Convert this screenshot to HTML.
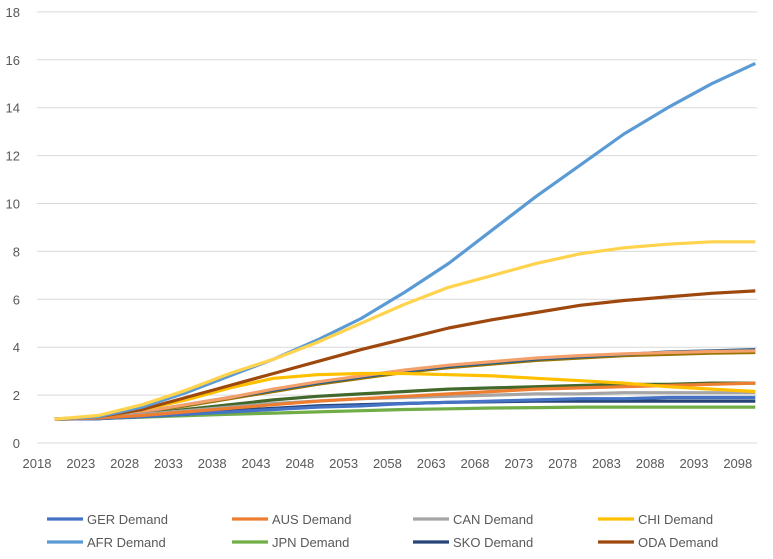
<!DOCTYPE html>
<html><head><meta charset="utf-8"><style>
body{margin:0;background:#fff;font-family:"Liberation Sans",sans-serif;}
svg text{font-family:"Liberation Sans",sans-serif;fill:#595959;font-size:13px;}
</style></head><body>
<svg id="c" width="773" height="554"></svg>
<script>
const years=[2020,2025,2030,2035,2040,2045,2050,2055,2060,2065,2070,2075,2080,2085,2090,2095,2100];
const yTicks=[0,2,4,6,8,10,12,14,16,18];
const xTicks=[2018,2023,2028,2033,2038,2043,2048,2053,2058,2063,2068,2073,2078,2083,2088,2093,2098];
const gerVals=[1,1.02,1.1,1.2,1.3,1.4,1.5,1.55,1.65,1.7,1.75,1.8,1.85,1.85,1.9,1.9,1.9];
const ausVals=[1,1.05,1.15,1.3,1.45,1.6,1.75,1.85,1.95,2.05,2.15,2.25,2.3,2.35,2.4,2.45,2.5];
const canVals=[1,1.05,1.2,1.35,1.5,1.65,1.75,1.85,1.9,1.95,2.0,2.05,2.05,2.1,2.1,2.1,2.1];
const chiVals=[1,1.1,1.4,1.8,2.3,2.7,2.85,2.9,2.9,2.85,2.8,2.7,2.6,2.5,2.35,2.25,2.15];
const afrVals=[1,1.1,1.5,2.1,2.8,3.5,4.3,5.2,6.3,7.5,8.9,10.3,11.6,12.9,14.0,15.0,15.85];
const jpnVals=[1,1.02,1.08,1.14,1.2,1.25,1.3,1.35,1.4,1.43,1.46,1.48,1.5,1.5,1.5,1.5,1.5];
const skoVals=[1,1.02,1.1,1.2,1.35,1.45,1.55,1.6,1.65,1.7,1.72,1.75,1.75,1.75,1.75,1.75,1.75];
const odaVals=[1,1.1,1.4,1.9,2.4,2.9,3.4,3.9,4.35,4.8,5.15,5.45,5.75,5.95,6.1,6.25,6.35];
const extraYellowVals=[1,1.15,1.6,2.2,2.9,3.5,4.2,5.0,5.8,6.5,7.0,7.5,7.9,8.15,8.3,8.4,8.4];
const extraBlueVals=[1,1.1,1.3,1.6,1.9,2.2,2.5,2.75,3.0,3.2,3.35,3.5,3.6,3.7,3.8,3.85,3.9];
const extraOliveVals=[1,1.1,1.3,1.55,1.85,2.15,2.45,2.7,2.95,3.15,3.3,3.45,3.55,3.65,3.7,3.75,3.78];
const extraPeachVals=[1,1.1,1.3,1.6,1.9,2.25,2.55,2.8,3.05,3.25,3.4,3.55,3.65,3.72,3.78,3.82,3.85];
const extraGreenVals=[1,1.05,1.2,1.4,1.6,1.8,1.95,2.05,2.15,2.25,2.3,2.35,2.4,2.45,2.45,2.5,2.5];
const series=[
 ["extra-olive",extraOliveVals,"#997300",null],
 ["extra-blue",extraBlueVals,"#255E91",null],
 ["extra-peach",extraPeachVals,"#F4A06A",null],
 ["extra-green",extraGreenVals,"#43682B",null],
 ["jpn",jpnVals,"#70AD47","JPN Demand"],
 ["sko",skoVals,"#264478","SKO Demand"],
 ["ger",gerVals,"#4472C4","GER Demand"],
 ["can",canVals,"#A5A5A5","CAN Demand"],
 ["aus",ausVals,"#ED7D31","AUS Demand"],
 ["chi",chiVals,"#FFC000","CHI Demand"],
 ["oda",odaVals,"#9E480E","ODA Demand"],
 ["afr",afrVals,"#5B9BD5","AFR Demand"],
 ["extra-yellow",extraYellowVals,"#FFD34D",null]
];
const NS="http://www.w3.org/2000/svg",svg=document.getElementById("c");
const X=y=>37+(y-2018)*8.76, Y=v=>443-v*23.95;
function mk(t,a,p){const e=document.createElementNS(NS,t);for(const k in a)e.setAttribute(k,a[k]);(p||svg).appendChild(e);return e;}
yTicks.forEach(v=>{
 const g=mk("line",{x1:37,x2:757,y1:Y(v),y2:Y(v),stroke:"#D9D9D9","stroke-width":1});
 
 
 const t=mk("text",{x:20,y:Y(v)+5,"text-anchor":"end"});t.textContent=v;
 
 
});
xTicks.forEach(v=>{
 const t=mk("text",{x:X(v),y:468,"text-anchor":"middle"});t.textContent=v;
 
 
});
series.forEach(s=>{
 const d=years.map((y,i)=>(i?"L":"M")+X(y).toFixed(1)+","+Y(s[1][i]).toFixed(1)).join(" ");
 const p=mk("path",{d:d,fill:"none",stroke:s[2],"stroke-width":3.2,"stroke-linejoin":"round"});
 
 
});
const legend=[["GER Demand","#4472C4"],["AUS Demand","#ED7D31"],["CAN Demand","#A5A5A5"],["CHI Demand","#FFC000"],["AFR Demand","#5B9BD5"],["JPN Demand","#70AD47"],["SKO Demand","#264478"],["ODA Demand","#9E480E"]];
const lx=[47,232,413,598];
legend.forEach((l,i)=>{
 const x=lx[i%4],y=i<4?519:542;
 const g=mk("g",{});
 
 
 mk("line",{x1:x,x2:x+36,y1:y,y2:y,stroke:l[1],"stroke-width":3.2},g);
 const t=mk("text",{x:x+40,y:y+5},g);t.textContent=l[0];
});
</script>
</body></html>
